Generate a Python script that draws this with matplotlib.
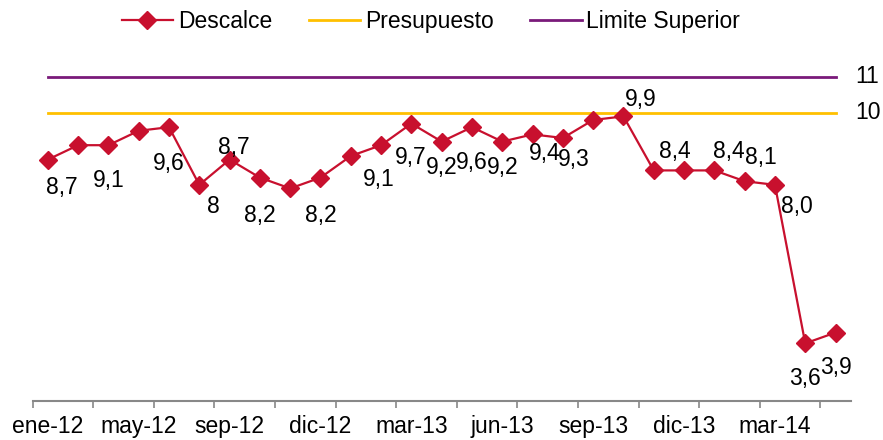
import matplotlib
matplotlib.use('Agg')
import matplotlib.pyplot as plt
import numpy as np

plt.rcParams['font.family'] = ['Liberation Sans', 'DejaVu Sans']

# Monthly values
descalce = [8.7, 9.1, 9.1, 9.5, 9.6, 8.0, 8.7, 8.2, 7.9, 8.2, 8.8, 9.1, 9.7, 9.2,
            9.6, 9.2, 9.4, 9.3, 9.8, 9.9, 8.4, 8.4, 8.4, 8.1, 8.0, 3.6, 3.9]
presupuesto = [10] * len(descalce)
limite_superior = [11] * len(descalce)

tick_labels = ['ene-12', 'may-12', 'sep-12', 'dic-12', 'mar-13',
               'jun-13', 'sep-13', 'dic-13', 'mar-14']

# Points that carry a data label, and the text shown
label_idx = [0, 2, 4, 5, 6, 7, 9, 11, 12, 13, 14, 15, 16, 17, 19, 20, 22, 23, 24, 25, 26]
label_txt = ['8,7', '9,1', '9,6', '8', '8,7', '8,2', '8,2', '9,1', '9,7', '9,2', '9,6',
             '9,2', '9,4', '9,3', '9,9', '8,4', '8,4', '8,1', '8,0', '3,6', '3,9']
# label offsets in pixels (dx, dy)
label_off = [(14, -28), (0, -35), (0, -36), (14, -22), (4, 12), (0, -38), (0, -38),
             (-2, -34), (-1, -34), (0, -26), (0, -35), (0, -26), (12, -19), (11, -22),
             (17, 17), (21, 19), (14, 19), (16, 24), (22, -22), (0, -35), (0, -35)]

fs = 16.5
x = np.arange(len(descalce))

fig = plt.figure(figsize=(8.83, 4.40), dpi=100)
ax = fig.add_axes([0.037, 0.0886, 0.9264, 0.8189])

red = '#C8102E'
ax.plot(x, descalce, color=red, lw=1.6, marker='D', markersize=9, label='Descalce', zorder=3)
ax.plot(x, presupuesto, color='#FFC000', lw=2, label='Presupuesto', zorder=2)
ax.plot(x, limite_superior, color='#7A1A7A', lw=2, label='Limite Superior', zorder=2)

for i, t, (dx, dy) in zip(label_idx, label_txt, label_off):
    ax.annotate(t, (x[i], descalce[i]), xytext=(dx, dy), textcoords='offset pixels',
                ha='center', va='center', fontsize=fs, zorder=4)

ax.annotate('11', (x[-1], limite_superior[-1]), xytext=(20, 0), textcoords='offset pixels',
            ha='left', va='center', fontsize=fs, annotation_clip=False)
ax.annotate('10', (x[-1], presupuesto[-1]), xytext=(20, 0), textcoords='offset pixels',
            ha='left', va='center', fontsize=fs, annotation_clip=False)

ax.set_xlim(-0.5, len(descalce) - 0.5)
ax.set_ylim(2, 12)

ax.set_xticks(np.arange(-0.5, len(descalce), 2))
ax.set_xticklabels([])
ax.set_xticks(np.arange(0, len(descalce), 3), minor=True)
ax.set_xticklabels(tick_labels, minor=True, fontsize=fs)
ax.tick_params(axis='x', which='major', direction='out', length=5, width=1.2, color='#888888')
ax.tick_params(axis='x', which='minor', length=0, pad=10)
ax.set_yticks([])

for s in ['left', 'right', 'top']:
    ax.spines[s].set_visible(False)
ax.spines['bottom'].set_color('#888888')
ax.spines['bottom'].set_linewidth(1.5)

fig.legend(loc='center', bbox_to_anchor=(0.488, 0.952), ncol=3, frameon=False,
           fontsize=fs, handlelength=2.25, handletextpad=0.2, columnspacing=1.6)

plt.savefig('out.png', dpi=100)
